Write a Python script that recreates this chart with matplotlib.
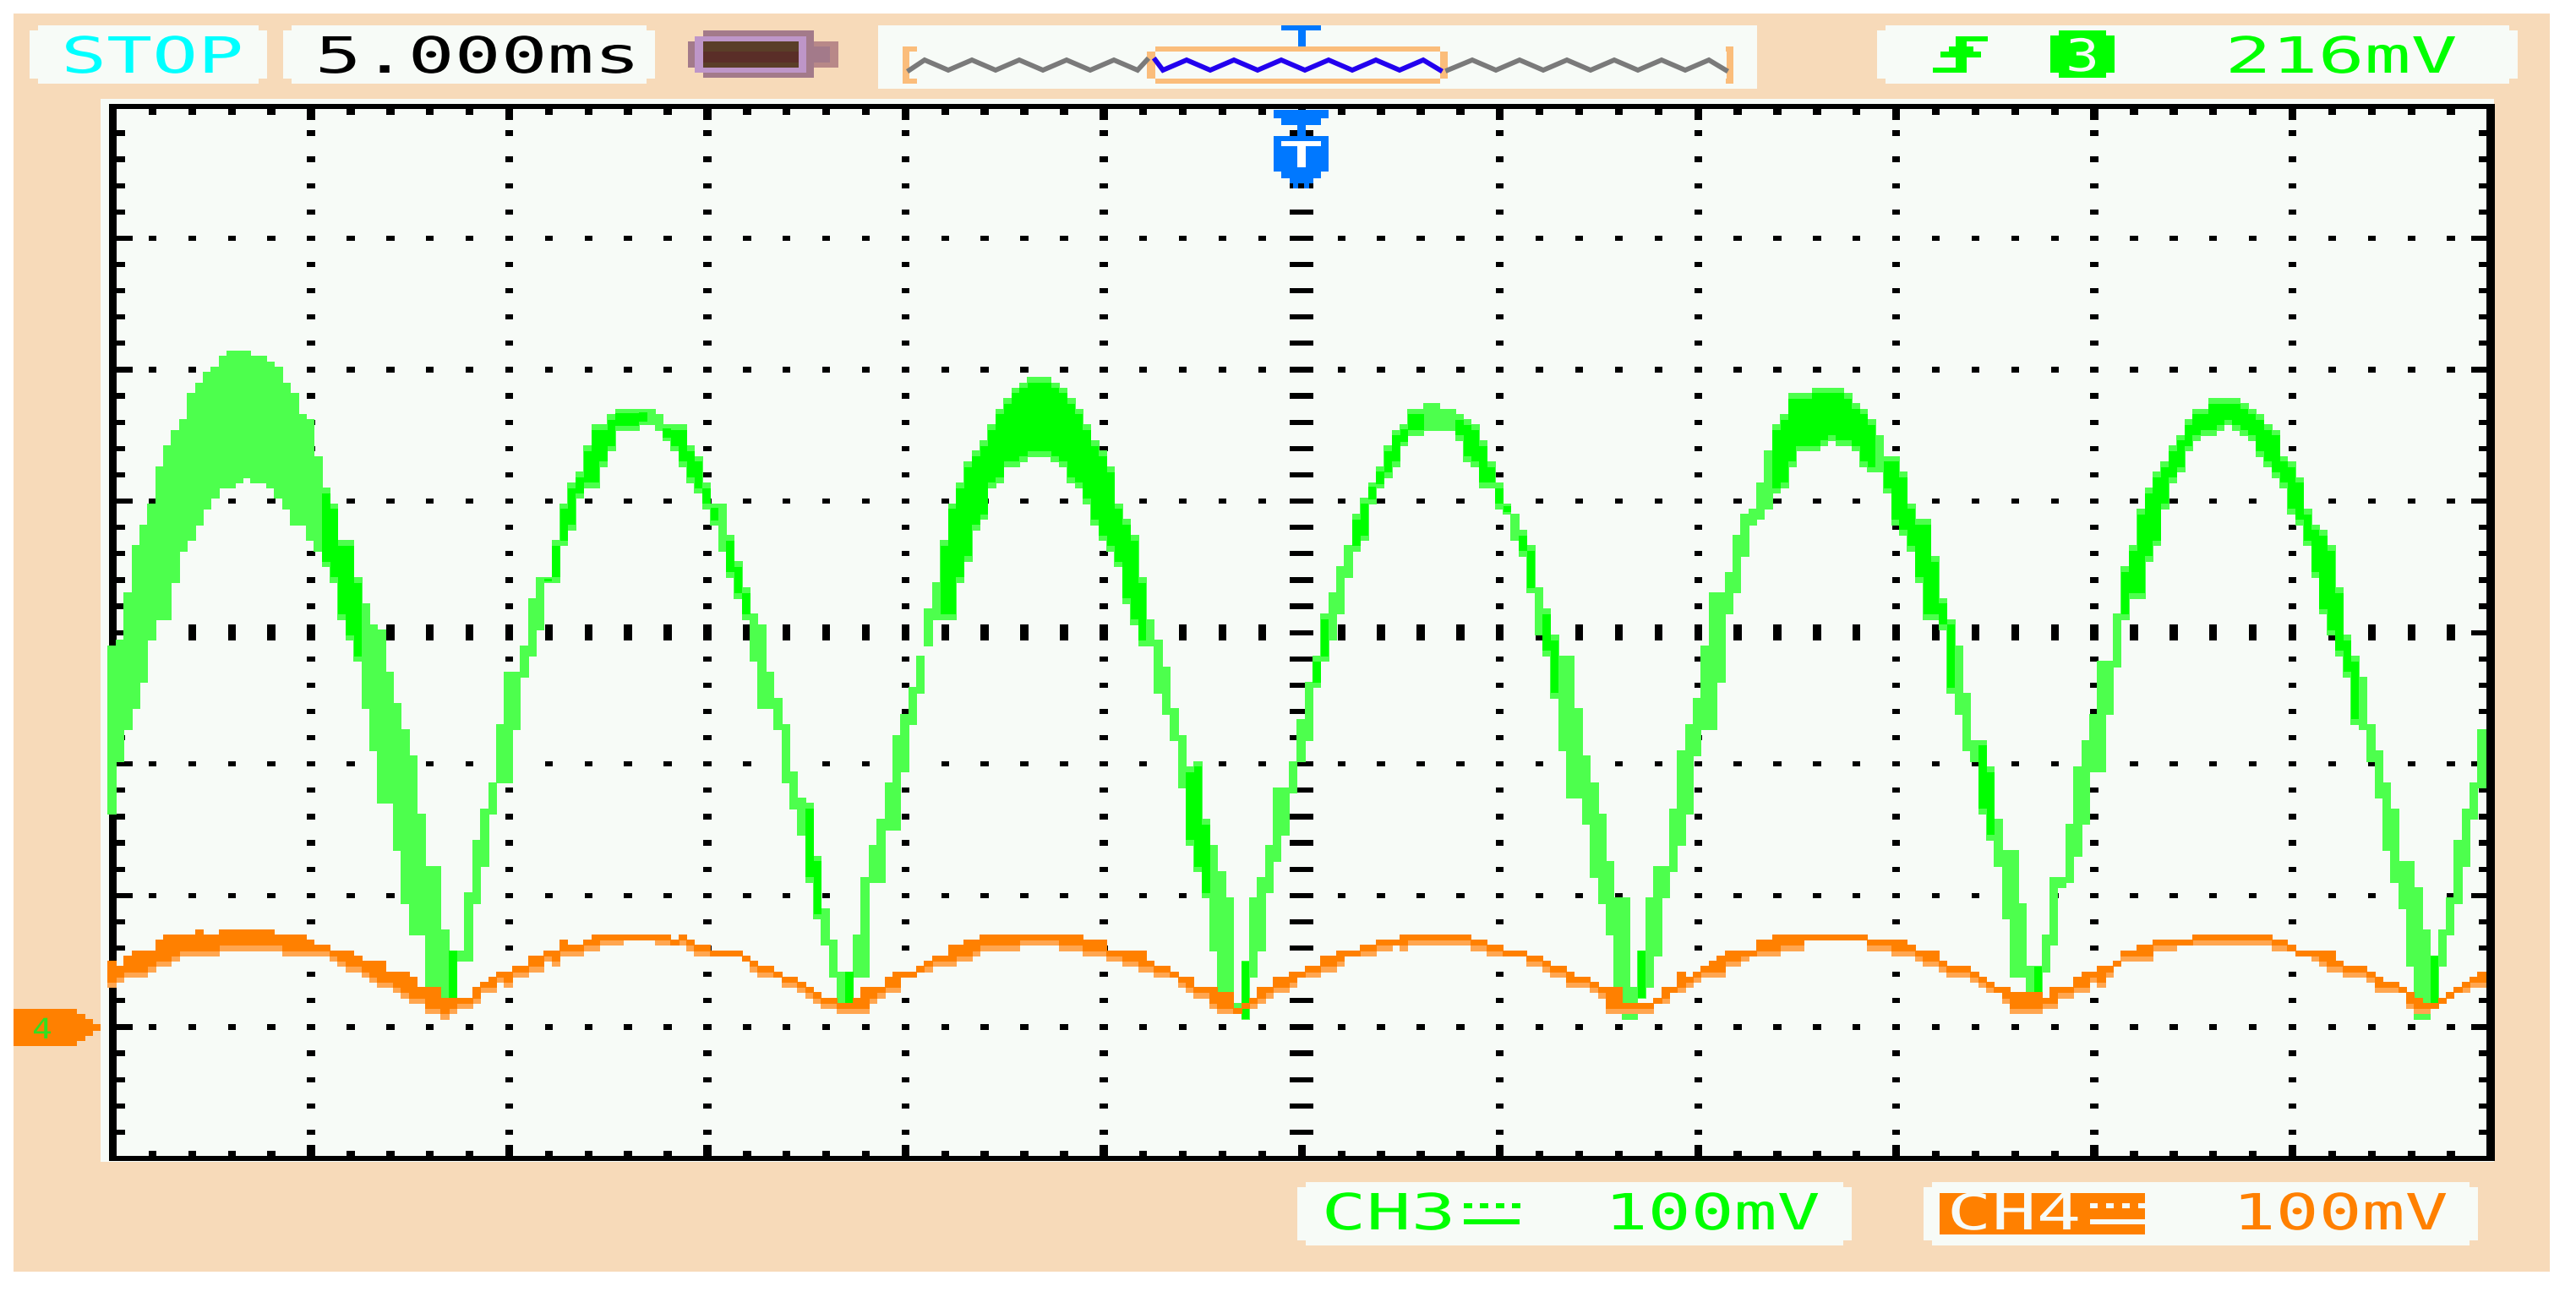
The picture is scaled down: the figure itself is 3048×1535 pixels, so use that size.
import matplotlib
matplotlib.use("Agg")
import matplotlib.pyplot as plt
import numpy as np
from matplotlib.collections import PolyCollection
from matplotlib.patches import Polygon, Rectangle
from matplotlib.patheffects import AbstractPathEffect
from matplotlib.transforms import Affine2D

# Screen readings: one value per display column, in display rows from the centre line
ch3_top = [
 -2.5,-1.5,7.5,16.5,20.5,24.5,31.5,35.5,38.5,40.5,
 45.5,47.5,49.5,50.5,52.5,53.5,53.5,53.5,52.5,52.5,
 51.5,50.5,47.5,45.5,41.5,40.5,33.5,27.5,24.5,17.5,
 17.5,10.5,5.5,1.5,0.5,-7.5,-13.5,-18.5,-23.5,-34.5,
 -44.5,-44.5,-56.5,-60.5,-60.5,-49.5,-39.5,-33.5,-28.5,-17.5,
 -7.5,-7.5,-2.5,6.5,10.5,10.5,17.5,24.5,28.5,30.5,
 35.5,39.5,39.5,41.5,42.5,42.5,42.5,42.5,42.5,41.5,
 39.5,39.5,39.5,35.5,33.5,28.5,24.5,24.5,18.5,13.5,
 8.5,3.5,1.5,-7.5,-12.5,-17.5,-26.5,-31.5,-32.5,-42.5,
 -52.5,-58.5,-64.5,-64.5,-57.5,-46.5,-40.5,-35.5,-28.5,-19.5,
 -15.5,-10.5,-4.5,4.5,9.5,17.5,24.5,28.5,32.5,34.5,
 36.5,39.5,42.5,44.5,46.5,47.5,48.5,48.5,48.5,47.5,
 46.5,44.5,42.5,39.5,36.5,34.5,31.5,24.5,21.5,18.5,
 10.5,2.5,-1.5,-6.5,-14.5,-19.5,-25.5,-24.5,-35.5,-40.5,
 -45.5,-50.5,-70.5,-62.5,-50.5,-46.5,-40.5,-29.5,-29.5,-24.5,
 -16.5,-9.5,-4.5,3.5,7.5,12.5,16.5,22.5,25.5,28.5,
 31.5,35.5,38.5,39.5,42.5,42.5,43.5,43.5,42.5,42.5,
 41.5,40.5,39.5,36.5,32.5,28.5,24.5,22.5,19.5,16.5,
 8.5,4.5,-0.5,-4.5,-4.5,-14.5,-23.5,-28.5,-34.5,-43.5,
 -50.5,-50.5,-67.5,-60.5,-50.5,-44.5,-44.5,-33.5,-22.5,-17.5,
 -12.5,-2.5,7.5,7.5,11.5,18.5,22.5,23.5,28.5,34.5,
 39.5,41.5,45.5,45.5,45.5,46.5,46.5,46.5,46.5,45.5,
 43.5,42.5,40.5,37.5,33.5,33.5,30.5,24.5,21.5,21.5,
 14.5,6.5,2.5,-2.5,-11.5,-20.5,-20.5,-25.5,-35.5,-41.5,
 -41.5,-51.5,-63.5,-63.5,-57.5,-46.5,-46.5,-36.5,-25.5,-20.5,
 -15.5,-5.5,-5.5,3.5,12.5,16.5,23.5,27.5,30.5,32.5,
 35.5,37.5,40.5,42.5,42.5,44.5,44.5,44.5,44.5,43.5,
 42.5,41.5,39.5,38.5,33.5,32.5,29.5,23.5,20.5,19.5,
 16.5,8.5,-0.5,-4.5,-8.5,-17.5,-22.5,-28.5,-33.5,-43.5,
 -43.5,-48.5,-56.5,-61.5,-56.5,-50.5,-39.5,-33.5,-28.5,-18.5]
ch3_bottom = [
 -34.5,-24.5,-18.5,-14.5,-9.5,-1.5,2.5,2.5,9.5,15.5,
 17.5,20.5,23.5,25.5,27.5,27.5,28.5,29.5,28.5,28.5,
 27.5,25.5,23.5,20.5,20.5,17.5,15.5,12.5,9.5,2.5,
 -1.5,-5.5,-14.5,-22.5,-32.5,-32.5,-41.5,-51.5,-57.5,-57.5,
 -67.5,-67.5,-69.5,-69.5,-62.5,-62.5,-51.5,-44.5,-34.5,-28.5,
 -28.5,-18.5,-8.5,-4.5,0.5,9.5,9.5,16.5,19.5,25.5,
 27.5,27.5,31.5,34.5,38.5,38.5,38.5,39.5,39.5,38.5,
 36.5,34.5,31.5,28.5,26.5,23.5,20.5,15.5,10.5,6.5,
 2.5,-5.5,-14.5,-14.5,-18.5,-28.5,-33.5,-38.5,-47.5,-54.5,
 -59.5,-65.5,-70.5,-70.5,-65.5,-65.5,-47.5,-47.5,-37.5,-37.5,
 -26.5,-17.5,-11.5,-2.5,2.5,2.5,2.5,9.5,13.5,19.5,
 21.5,27.5,28.5,31.5,31.5,32.5,33.5,33.5,33.5,32.5,
 31.5,28.5,27.5,24.5,20.5,17.5,15.5,12.5,5.5,1.5,
 -2.5,-2.5,-11.5,-15.5,-20.5,-29.5,-40.5,-45.5,-50.5,-60.5,
 -68.5,-71.5,-71.5,-73.5,-65.5,-60.5,-49.5,-43.5,-38.5,-30.5,
 -24.5,-20.5,-10.5,-5.5,-1.5,3.5,10.5,15.5,17.5,24.5,
 27.5,29.5,31.5,35.5,37.5,37.5,38.5,38.5,38.5,38.5,
 36.5,32.5,31.5,27.5,27.5,23.5,22.5,17.5,14.5,7.5,
 -0.5,-4.5,-12.5,-22.5,-31.5,-31.5,-36.5,-46.5,-51.5,-57.5,
 -68.5,-73.5,-73.5,-69.5,-67.5,-61.5,-50.5,-45.5,-40.5,-34.5,
 -23.5,-18.5,-18.5,-9.5,3.5,7.5,14.5,20.5,21.5,23.5,
 26.5,27.5,31.5,34.5,34.5,34.5,35.5,36.5,35.5,35.5,
 34.5,31.5,30.5,30.5,26.5,20.5,18.5,15.5,9.5,2.5,
 2.5,0.5,-11.5,-15.5,-22.5,-24.5,-34.5,-39.5,-44.5,-54.5,
 -65.5,-65.5,-70.5,-70.5,-64.5,-59.5,-48.5,-47.5,-42.5,-36.5,
 -26.5,-26.5,-15.5,-6.5,2.5,6.5,6.5,13.5,16.5,23.5,
 28.5,30.5,34.5,36.5,37.5,37.5,38.5,39.5,38.5,37.5,
 36.5,33.5,31.5,29.5,27.5,22.5,20.5,16.5,10.5,3.5,
 -0.5,-4.5,-8.5,-17.5,-18.5,-24.5,-31.5,-41.5,-47.5,-52.5,
 -63.5,-73.5,-73.5,-70.5,-63.5,-57.5,-51.5,-44.5,-35.5,-29.5]
ch4_top = [
 -62.5,-63.5,-61.5,-60.5,-60.5,-60.5,-58.5,-57.5,-57.5,-57.5,
 -57.5,-56.5,-57.5,-57.5,-56.5,-56.5,-56.5,-56.5,-56.5,-56.5,
 -56.5,-57.5,-57.5,-57.5,-57.5,-58.5,-59.5,-59.5,-60.5,-60.5,
 -60.5,-61.5,-62.5,-62.5,-62.5,-64.5,-64.5,-64.5,-65.5,-67.5,
 -67.5,-67.5,-69.5,-69.5,-69.5,-69.5,-67.5,-66.5,-65.5,-64.5,
 -64.5,-63.5,-63.5,-61.5,-61.5,-60.5,-60.5,-58.5,-59.5,-59.5,
 -58.5,-57.5,-57.5,-57.5,-57.5,-57.5,-57.5,-57.5,-57.5,-57.5,
 -57.5,-58.5,-57.5,-58.5,-59.5,-59.5,-60.5,-60.5,-60.5,-60.5,
 -61.5,-62.5,-63.5,-63.5,-64.5,-65.5,-65.5,-66.5,-67.5,-68.5,
 -69.5,-69.5,-70.5,-70.5,-69.5,-67.5,-67.5,-67.5,-65.5,-64.5,
 -64.5,-64.5,-63.5,-62.5,-61.5,-61.5,-59.5,-59.5,-58.5,-58.5,
 -57.5,-57.5,-57.5,-57.5,-57.5,-57.5,-57.5,-57.5,-57.5,-57.5,
 -57.5,-57.5,-57.5,-58.5,-58.5,-58.5,-60.5,-60.5,-60.5,-60.5,
 -60.5,-62.5,-63.5,-63.5,-64.5,-65.5,-65.5,-67.5,-67.5,-67.5,
 -68.5,-68.5,-71.5,-70.5,-69.5,-67.5,-67.5,-65.5,-65.5,-64.5,
 -64.5,-63.5,-63.5,-61.5,-61.5,-60.5,-60.5,-60.5,-59.5,-59.5,
 -58.5,-58.5,-58.5,-57.5,-57.5,-57.5,-57.5,-57.5,-57.5,-57.5,
 -57.5,-57.5,-58.5,-58.5,-59.5,-59.5,-60.5,-60.5,-60.5,-61.5,
 -61.5,-62.5,-63.5,-63.5,-64.5,-65.5,-65.5,-66.5,-67.5,-67.5,
 -67.5,-70.5,-70.5,-70.5,-70.5,-69.5,-67.5,-67.5,-64.5,-65.5,
 -64.5,-63.5,-62.5,-61.5,-60.5,-60.5,-60.5,-60.5,-58.5,-58.5,
 -57.5,-57.5,-57.5,-57.5,-57.5,-57.5,-57.5,-57.5,-57.5,-57.5,
 -57.5,-57.5,-58.5,-58.5,-58.5,-58.5,-58.5,-59.5,-60.5,-60.5,
 -60.5,-62.5,-63.5,-63.5,-63.5,-64.5,-65.5,-66.5,-67.5,-67.5,
 -68.5,-68.5,-68.5,-68.5,-69.5,-67.5,-67.5,-67.5,-65.5,-64.5,
 -64.5,-63.5,-63.5,-62.5,-60.5,-60.5,-59.5,-59.5,-58.5,-58.5,
 -58.5,-58.5,-58.5,-57.5,-57.5,-57.5,-57.5,-57.5,-57.5,-57.5,
 -57.5,-57.5,-57.5,-58.5,-58.5,-59.5,-60.5,-60.5,-60.5,-60.5,
 -60.5,-62.5,-63.5,-63.5,-63.5,-64.5,-65.5,-66.5,-66.5,-67.5,
 -68.5,-69.5,-70.5,-70.5,-69.5,-68.5,-67.5,-66.5,-65.5,-64.5]
ch4_bottom = [
 -67.5,-66.5,-65.5,-65.5,-65.5,-64.5,-63.5,-63.5,-62.5,-61.5,
 -61.5,-61.5,-61.5,-61.5,-60.5,-60.5,-60.5,-60.5,-60.5,-60.5,
 -60.5,-60.5,-61.5,-61.5,-61.5,-61.5,-61.5,-61.5,-62.5,-63.5,
 -64.5,-64.5,-65.5,-66.5,-67.5,-67.5,-68.5,-69.5,-70.5,-70.5,
 -72.5,-72.5,-73.5,-72.5,-71.5,-71.5,-70.5,-68.5,-68.5,-66.5,
 -67.5,-65.5,-65.5,-64.5,-64.5,-62.5,-63.5,-61.5,-61.5,-61.5,
 -60.5,-60.5,-59.5,-59.5,-59.5,-58.5,-58.5,-58.5,-58.5,-59.5,
 -59.5,-59.5,-59.5,-60.5,-61.5,-61.5,-61.5,-61.5,-61.5,-61.5,
 -62.5,-64.5,-65.5,-65.5,-65.5,-67.5,-67.5,-68.5,-69.5,-70.5,
 -71.5,-71.5,-72.5,-72.5,-72.5,-72.5,-70.5,-69.5,-68.5,-68.5,
 -65.5,-65.5,-64.5,-64.5,-63.5,-63.5,-63.5,-62.5,-62.5,-61.5,
 -60.5,-60.5,-60.5,-60.5,-60.5,-59.5,-59.5,-59.5,-59.5,-59.5,
 -60.5,-60.5,-60.5,-61.5,-61.5,-61.5,-62.5,-62.5,-63.5,-63.5,
 -64.5,-64.5,-65.5,-65.5,-65.5,-67.5,-68.5,-69.5,-69.5,-71.5,
 -72.5,-72.5,-72.5,-71.5,-71.5,-70.5,-69.5,-68.5,-68.5,-67.5,
 -65.5,-65.5,-65.5,-64.5,-64.5,-63.5,-61.5,-61.5,-61.5,-61.5,
 -60.5,-60.5,-59.5,-60.5,-59.5,-59.5,-59.5,-59.5,-59.5,-59.5,
 -59.5,-59.5,-60.5,-60.5,-61.5,-61.5,-61.5,-61.5,-61.5,-63.5,
 -63.5,-64.5,-65.5,-65.5,-67.5,-67.5,-67.5,-68.5,-69.5,-72.5,
 -72.5,-72.5,-72.5,-72.5,-72.5,-70.5,-70.5,-68.5,-68.5,-67.5,
 -66.5,-65.5,-65.5,-65.5,-63.5,-63.5,-62.5,-61.5,-61.5,-61.5,
 -61.5,-60.5,-60.5,-60.5,-58.5,-58.5,-58.5,-58.5,-58.5,-58.5,
 -58.5,-58.5,-60.5,-60.5,-60.5,-61.5,-61.5,-61.5,-62.5,-63.5,
 -63.5,-64.5,-65.5,-65.5,-65.5,-66.5,-67.5,-68.5,-68.5,-70.5,
 -72.5,-72.5,-72.5,-72.5,-71.5,-71.5,-69.5,-69.5,-68.5,-68.5,
 -66.5,-67.5,-65.5,-63.5,-62.5,-62.5,-62.5,-62.5,-60.5,-60.5,
 -60.5,-59.5,-59.5,-59.5,-59.5,-59.5,-59.5,-59.5,-59.5,-59.5,
 -59.5,-59.5,-59.5,-60.5,-60.5,-60.5,-61.5,-61.5,-62.5,-63.5,
 -64.5,-64.5,-65.5,-65.5,-65.5,-66.5,-68.5,-68.5,-68.5,-68.5,
 -71.5,-72.5,-72.5,-71.5,-70.5,-69.5,-68.5,-68.5,-67.5,-67.5]
# Columns where the CH3 trace is at full brightness (first, last)
ch3_bright_cols = [(27,31),(43,43),(55,62),(63,67),(70,76),(78,80),(88,89),(93,93),
                   (105,112),(113,125),(126,130),(136,138),(143,143),(152,153),(157,165),
                   (170,176),(178,179),(181,182),(193,193),(210,222),(224,232),(236,237),
                   (243,243),(254,283),(293,293)]

# Texts
state_label = "STOP"
timebase_label = "5.000ms"
trigger_level_label = "216mV"
trigger_source_label = "3"
ch3_label = "CH3"
ch4_label = "CH4"
ch3_scale_label = "100mV"
ch4_scale_label = "100mV"
ch4_marker_label = "4"

PEACH = "#F7DAB9"
PANEL = "#F7FBF7"
GREEN = "#00FF00"
LGREEN = "#4DFF4D"
ORANGE = "#FF8000"
LORANGE = "#FFA650"
BLUE = "#0078FF"
BRACKET = "#FBBD7B"
MONO = "DejaVu Sans Mono"


class StretchX(AbstractPathEffect):
    """Widens a text around its anchor, as the scope's tall-pixel font is wide."""
    def __init__(self, factor, anchor):
        super().__init__()
        self.factor, self.anchor = factor, anchor

    def draw_path(self, renderer, gc, tpath, affine, rgbFace=None):
        st = Affine2D().translate(-self.anchor, 0).scale(self.factor, 1).translate(self.anchor, 0)
        renderer.draw_path(gc, tpath, affine + st, rgbFace)


W, H = 3048, 1535
fig = plt.figure(figsize=(W/100, H/100), dpi=100, facecolor="white")


def pixel_axes(z):
    a = fig.add_axes([0, 0, 1, 1], zorder=z)
    a.set_xlim(0, W)
    a.set_ylim(H, 0)
    a.axis("off")
    a.patch.set_alpha(0)
    return a


bg = pixel_axes(0)
front = pixel_axes(2)


def rect(a, x0, x1, y0, y1, c, z=1):
    a.add_patch(Rectangle((x0, y0), x1-x0, y1-y0, fc=c, ec="none", lw=0, zorder=z, antialiased=False))


def chamfer(a, x0, x1, y0, y1, c, dx=10, dy=6):
    pts = [(x0+dx, y0), (x1-dx, y0), (x1-dx, y0+dy), (x1, y0+dy), (x1, y1-dy), (x1-dx, y1-dy),
           (x1-dx, y1), (x0+dx, y1), (x0+dx, y1-dy), (x0, y1-dy), (x0, y0+dy), (x0+dx, y0+dy)]
    a.add_patch(Polygon(pts, fc=c, ec="none", lw=0, antialiased=False))


def label(a, s, xc, base, c, adv=54.0, size=42.5, z=5):
    t = a.text(xc, base, s, color=c, family=MONO, fontsize=size, ha="center", va="baseline", zorder=z)
    t.set_path_effects([StretchX(adv/(size*100/72*0.602), xc)])
    return t


# Bezel and screen
rect(bg, 16, 3017, 16, 1505, PEACH, 0)
rect(bg, 119, 2951, 117, 1375, PANEL, 1)

# Header boxes
chamfer(bg, 35, 316, 30, 99, PANEL)
label(bg, state_label, 180, 86, "#00FFFF")
chamfer(bg, 335, 775, 30, 99, PANEL)
label(bg, timebase_label, 565, 86, "black", adv=55)

# Battery
rect(bg, 832, 963, 36, 92, "#A37A8A")
rect(bg, 814, 832, 49, 80, "#A37A8A")
rect(bg, 963, 992, 49, 80, "#B88888")
rect(bg, 963, 982, 55, 74, "#A37A8A")
rect(bg, 822, 954, 43, 86, "#BE96C8", 2)
rect(bg, 832, 945, 49, 80, "#5A3E28", 3)
rect(bg, 832, 945, 61, 74, "#5A2E28", 4)

# Memory overview
rect(bg, 1039, 2079, 30, 105, PANEL)
for x0, x1, x2 in [(1068, 1076, 1085), (2042, 2042, 2051)]:
    rect(bg, x0, x2, 55, 61, BRACKET, 2)
    rect(bg, x0, x2, 93, 99, BRACKET, 2)
rect(bg, 1068, 1076, 61, 93, BRACKET, 2)
rect(bg, 2043, 2051, 61, 93, BRACKET, 2)
rect(bg, 1367, 1704, 55, 61, BRACKET, 2)
rect(bg, 1367, 1704, 93, 99, BRACKET, 2)
rect(bg, 1357, 1367, 61, 93, BRACKET, 2)
rect(bg, 1704, 1713, 61, 93, BRACKET, 2)
overview_grey_left = [1076, 1094, 1122, 1150, 1178, 1206, 1234, 1262, 1290, 1318, 1346, 1357]
overview_blue = [1367, 1376, 1404, 1432, 1460, 1488, 1516, 1544, 1572, 1600, 1628, 1656, 1684, 1704]
overview_grey_right = [1713, 1742, 1770, 1798, 1826, 1854, 1882, 1910, 1938, 1966, 1994, 2022, 2042]
for xs, c, first in [(overview_grey_left, "#7A7A7A", 77), (overview_blue, "#2200EE", 71), (overview_grey_right, "#7A7A7A", 83)]:
    ys = [71 if ((i % 2 == 0) == (first == 71)) else 83 for i in range(len(xs))]
    bg.plot(xs, ys, color=c, lw=4.2, solid_joinstyle="miter", zorder=3)
rect(bg, 1516, 1563, 30, 36, BLUE, 3)
rect(bg, 1536, 1545, 36, 55, BLUE, 3)

# Trigger box
chamfer(bg, 2221, 2979, 30, 99, PANEL)
rect(bg, 2287, 2327, 80, 86, GREEN, 3)
rect(bg, 2314, 2327, 49, 86, GREEN, 3)
rect(bg, 2314, 2352, 43, 49, GREEN, 3)
rect(bg, 2296, 2344, 61, 68, GREEN, 3)
rect(bg, 2306, 2335, 55, 61, GREEN, 3)
chamfer(bg, 2426, 2502, 36, 92, GREEN)
label(bg, trigger_source_label, 2464, 84, PANEL, adv=40, size=38)
label(bg, trigger_level_label, 2770, 86, GREEN, adv=55)

# Channel boxes
chamfer(bg, 1535, 2191, 1399, 1474, PANEL)
label(bg, ch3_label, 1643, 1455, GREEN, adv=53)
for x in [1732, 1751, 1770, 1789]:
    rect(bg, x, x+10, 1424, 1430, GREEN, 3)
rect(bg, 1732, 1798, 1443, 1449, GREEN, 3)
label(bg, ch3_scale_label, 2026, 1455, GREEN, adv=51)
chamfer(bg, 2276, 2932, 1399, 1474, PANEL)
rect(bg, 2295, 2538, 1412, 1461, ORANGE, 3)
label(bg, ch4_label, 2383, 1455, PANEL, adv=53)
for x in [2473, 2492, 2511, 2530]:
    rect(bg, x, x+9, 1424, 1430, PANEL, 4)
rect(bg, 2473, 2538, 1443, 1449, PANEL, 4)
label(bg, ch4_scale_label, 2769, 1455, ORANGE, adv=51)

# CH4 ground marker
rect(bg, 16, 91, 1194, 1238, ORANGE, 3)
rect(bg, 91, 101, 1200, 1232, ORANGE, 3)
rect(bg, 101, 110, 1206, 1226, ORANGE, 3)
rect(bg, 110, 119, 1212, 1220, ORANGE, 3)
label(bg, ch4_marker_label, 50, 1229, "#30E020", adv=24, size=24)

# Screen axes: 300 x 200 display cells, 12 x 8 divisions
ax = fig.add_axes([133.6/W, 1-1371/H, (2947-133.6)/W, (1371-126.3)/H], zorder=1)
ax.set_xlim(0, 300)
ax.set_ylim(-100, 100)
ax.axis("off")
ax.patch.set_alpha(0)


def cell(x0, x1, y0, y1):
    return [(x0, y0), (x1, y0), (x1, y1), (x0, y1)]


marks = []
for col in range(25, 300, 25):
    for row in range(-95, 100, 5):
        if col == 150:
            marks.append(cell(col-1.5, col+1.5, row-.5, row+.5))
        elif row == 0:
            marks.append(cell(col-.5, col+.5, -1.5, 1.5))
        else:
            marks.append(cell(col-.5, col+.5, row-.5, row+.5))
for row in range(-75, 100, 25):
    for col in range(5, 300, 5):
        if col % 25 == 0:
            continue
        if row == 0:
            marks.append(cell(col-.5, col+.5, -1.5, 1.5))
        else:
            marks.append(cell(col-.5, col+.5, row-.5, row+.5))
for row in range(-95, 100, 5):
    length = 2.5 if row % 25 == 0 else 1.5
    marks.append(cell(0, length, row-.5, row+.5))
    marks.append(cell(300-length, 300, row-.5, row+.5))
for col in range(5, 300, 5):
    length = 2.5 if col % 25 == 0 else 1.5
    marks.append(cell(col-.5, col+.5, 100-length, 100))
    marks.append(cell(col-.5, col+.5, -100, -100+length))
marks.append(cell(-.5, .5, -100.5, 100.5))
marks.append(cell(299.5, 300.5, -100.5, 100.5))
marks.append(cell(-.5, 300.5, 99.5, 100.5))
marks.append(cell(-.5, 300.5, -100.5, -99.5))
ax.add_collection(PolyCollection(marks, facecolors="black", edgecolors="none", antialiased=False, zorder=1, clip_on=False))

top3 = np.array(ch3_top)
bot3 = np.array(ch3_bottom)
top4 = np.array(ch4_top)
bot4 = np.array(ch4_bottom)
edges = np.arange(301) - 0.6


def column_fill(x_edges, hi, lo, color, z):
    ax.fill_between(x_edges, np.r_[hi, hi[-1]], np.r_[lo, lo[-1]], step="post",
                    facecolor=color, edgecolor="none", lw=0, zorder=z, clip_on=False, antialiased=False)


column_fill(edges, top3, bot3, LGREEN, 2)
for a, b in ch3_bright_cols:
    h = top3[a:b+1]
    l = bot3[a:b+1]
    inset = np.minimum(1.0, (h-l)*0.2) if (b-a) > 0 else 0
    column_fill(edges[a:b+2], h-inset, l+inset, GREEN, 3)
column_fill(edges, top4, bot4, LORANGE, 4)
core_low = np.where(top4-bot4 >= 2, bot4+1, bot4)
column_fill(edges, top4, core_low, ORANGE, 5)

# Trigger position marker
rect(front, 1507, 1572, 130, 140, BLUE)
rect(front, 1516, 1563, 140, 148, BLUE)
rect(front, 1535, 1545, 148, 161, BLUE)
rect(front, 1507, 1572, 161, 203, BLUE)
rect(front, 1516, 1563, 203, 211, BLUE)
rect(front, 1526, 1554, 211, 217, BLUE)
rect(front, 1530, 1536, 217, 223, BLUE)
rect(front, 1543, 1549, 217, 223, BLUE)
rect(front, 1516, 1563, 167, 173, "white", 2)
rect(front, 1535, 1545, 173, 198, "white", 2)

fig.savefig("out.png", dpi=100, facecolor="white")
